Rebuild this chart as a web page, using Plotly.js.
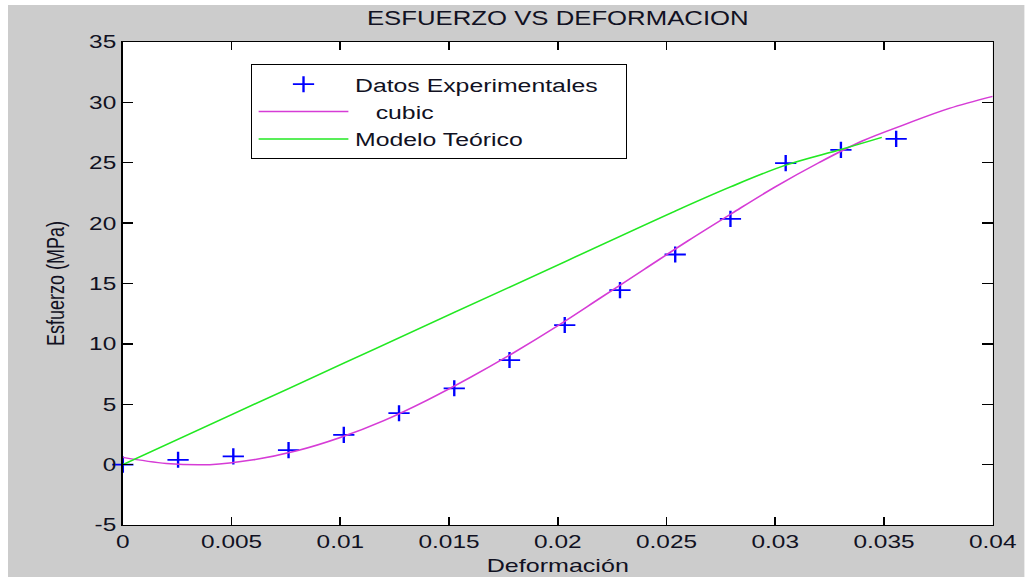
<!DOCTYPE html>
<html>
<head>
<meta charset="utf-8">
<script src="https://cdn.plot.ly/plotly-3.0.1.min.js"></script>
<style>
  html, body { margin: 0; padding: 0; background: #ffffff; width: 1025px; height: 577px; overflow: hidden; }
  #chart { position: absolute; left: 8px; top: 5px; width: 770px; height: 572px;
           transform: scaleX(1.32); transform-origin: 0 0; }
</style>
</head>
<body>
<div id="chart"></div>
<script>
// Experimental data (Deformación, Esfuerzo MPa)
const strainExp = [0, 0.00254, 0.00508, 0.00762, 0.01016, 0.0127, 0.01524, 0.01778, 0.02032, 0.02286, 0.0254, 0.02794, 0.03048, 0.03302, 0.03556];
const stressExp = [0, 0.4, 0.68, 1.2, 2.46, 4.26, 6.32, 8.66, 11.56, 14.45, 17.4, 20.35, 24.97, 26.07, 26.98];

// Cubic fit curve
const cubicStrain = [0, 0.002, 0.004, 0.006, 0.008, 0.010, 0.012, 0.014, 0.016, 0.018, 0.020, 0.022, 0.024, 0.026, 0.028, 0.030, 0.032, 0.034, 0.036, 0.038, 0.040];
const cubicStress = [0.6, 0.1, 0.0, 0.4, 1.15, 2.25, 3.65, 5.35, 7.25, 9.3, 11.5, 13.85, 16.2, 18.55, 20.8, 23.0, 25.0, 26.8, 28.2, 29.5, 30.5];

// Theoretical model curve
const modelStrain = [0, 0.00508, 0.01016, 0.01524, 0.02032, 0.0254, 0.02794, 0.03048, 0.03302, 0.0349];
const modelStress = [0, 4.2, 8.4, 12.6, 16.8, 21.0, 23.0, 24.8, 26.1, 27.1];

// Tick labels
const xTickVals = [0, 0.005, 0.01, 0.015, 0.02, 0.025, 0.03, 0.035, 0.04];
const xTickText = ['0', '0.005', '0.01', '0.015', '0.02', '0.025', '0.03', '0.035', '0.04'];
const yTickVals = [-5, 0, 5, 10, 15, 20, 25, 30, 35];
const yTickText = ['-5', '0', '5', '10', '15', '20', '25', '30', '35'];

const seriesNames = ['Datos Experimentales\u00a0\u00a0\u00a0', '\u00a0\u00a0\u00a0cubic', 'Modelo Teórico'];

const FONT = 'Liberation Sans, Arial, sans-serif';
const TXT = '#111122';

const traces = [
  {
    x: strainExp, y: stressExp, name: seriesNames[0],
    type: 'scatter', mode: 'markers', cliponaxis: false,
    marker: { symbol: 'cross-thin-open', size: 11.5, color: '#0000ff', line: { color: '#0000ff', width: 1.8 } }
  },
  {
    x: cubicStrain, y: cubicStress, name: seriesNames[1],
    type: 'scatter', mode: 'lines', line: { shape: 'spline', color: '#d63cd6', width: 1.5 }
  },
  {
    x: modelStrain, y: modelStress, name: seriesNames[2],
    type: 'scatter', mode: 'lines', line: { shape: 'spline', color: '#22e822', width: 1.5 }
  }
];

const axisCommon = {
  showgrid: false, zeroline: false, showline: true, linecolor: '#000000', linewidth: 1.3,
  mirror: 'ticks', ticks: 'inside', ticklen: 8, tickwidth: 1.3, tickcolor: '#000000',
  tickfont: { family: FONT, size: 18.5, color: TXT }, tickmode: 'array'
};

const layout = {
  width: 770, height: 572,
  paper_bgcolor: '#cccccc', plot_bgcolor: '#ffffff',
  margin: { l: 87.1, r: 24.2, t: 37, b: 52, pad: 0 },
  title: { text: 'ESFUERZO VS DEFORMACION', x: 0.5, xref: 'paper', y: 0.977, yref: 'container', yanchor: 'middle',
           font: { family: FONT, size: 19.5, color: TXT } },
  xaxis: Object.assign({}, axisCommon, {
    range: [0, 0.04], tickvals: xTickVals, ticktext: xTickText,
    title: { text: 'Deformación', font: { family: FONT, size: 19, color: TXT }, standoff: 7 }
  }),
  yaxis: Object.assign({}, axisCommon, {
    range: [-5, 35], tickvals: yTickVals, ticktext: yTickText,
    title: { text: 'Esfuerzo (MPa)', font: { family: FONT, size: 18, color: TXT }, standoff: 13.5 }
  }),
  showlegend: true,
  legend: {
    x: 0.147, y: 0.9535, xanchor: 'left', yanchor: 'top',
    bgcolor: '#ffffff', bordercolor: '#000000', borderwidth: 1,
    font: { family: FONT, size: 18.8, color: TXT }, itemwidth: 68, traceorder: 'normal'
  }
};

Plotly.newPlot('chart', traces, layout, { staticPlot: true, displayModeBar: false });
</script>
</body>
</html>
